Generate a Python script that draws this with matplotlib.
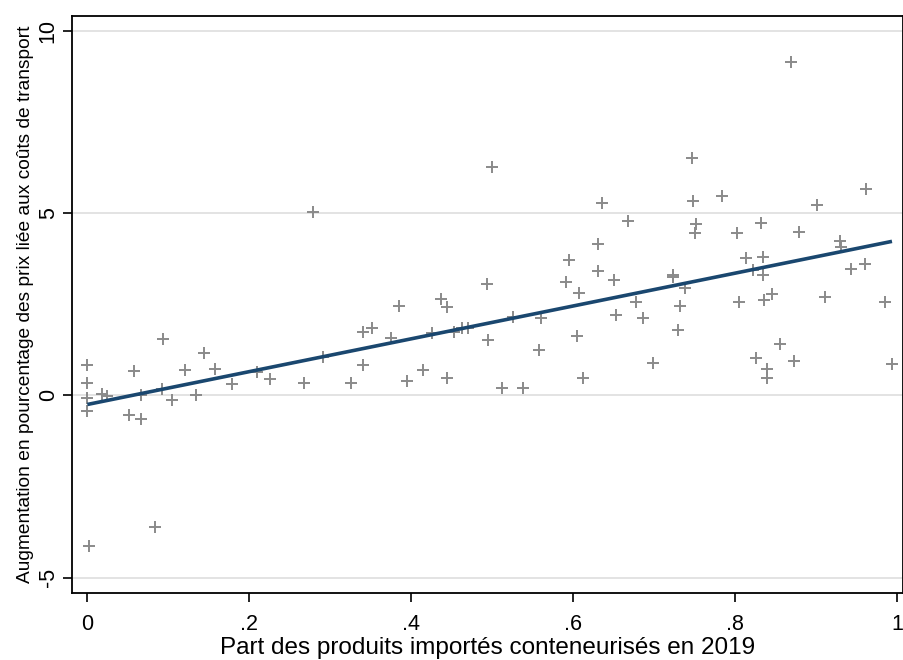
import numpy as np
import matplotlib
matplotlib.use("Agg")
import matplotlib.pyplot as plt

plt.rcParams['font.family'] = ['Liberation Sans', 'DejaVu Sans']

# part conteneurisée des importations (2019) et hausse de prix correspondante
part_conteneur = [
    0.000, 0.000, 0.000, 0.000, 0.0025, 0.0185, 0.0247, 0.052, 0.0667, 0.057,
    0.066, 0.084, 0.094, 0.092, 0.105, 0.120, 0.1346, 0.1444, 0.157, 0.1786,
    0.210, 0.226,
    0.2786, 0.268, 0.2905, 0.326, 0.340, 0.340, 0.351, 0.3745, 0.3848, 0.3947,
    0.4148, 0.426, 0.437, 0.4436, 0.4444, 0.4527, 0.462, 0.4695, 0.4938, 0.4942,
    0.500, 0.5115, 0.538, 0.526, 0.558, 0.560, 0.595, 0.591, 0.607, 0.604,
    0.6115, 0.631, 0.630, 0.636, 0.650, 0.6527, 0.6675, 0.677, 0.6856, 0.6988,
    0.7226, 0.7235, 0.738, 0.7317, 0.729, 0.746, 0.748, 0.7515, 0.750,
    0.784, 0.9004, 0.961, 0.8025, 0.8317, 0.879, 0.8136, 0.8337, 0.822, 0.8346,
    0.9292, 0.930, 0.943, 0.9605, 0.805, 0.835, 0.845, 0.911, 0.985, 0.855,
    0.826, 0.8387, 0.8387, 0.873, 0.9934, 0.869,
]
hausse_prix = [
    0.82, 0.33, -0.08, -0.43, -4.14, 0.04, -0.02, -0.54, -0.65, 0.67,
    0.01, -3.61, 1.55, 0.18, -0.12, 0.70, 0.00, 1.15, 0.72, 0.31,
    0.65, 0.46,
    5.02, 0.35, 1.05, 0.35, 0.82, 1.75, 1.85, 1.57, 2.46, 0.40,
    0.70, 1.71, 2.64, 2.43, 0.48, 1.73, 1.85, 1.84, 3.06, 1.52,
    6.26, 0.20, 0.21, 2.15, 1.25, 2.12, 3.70, 3.10, 2.82, 1.63,
    0.49, 4.16, 3.40, 5.27, 3.15, 2.21, 4.79, 2.55, 2.12, 0.88,
    3.31, 3.25, 2.94, 2.44, 1.80, 6.52, 5.34, 4.71, 4.45,
    5.48, 5.22, 5.65, 4.46, 4.73, 4.47, 3.77, 3.79, 3.45, 3.31,
    4.23, 4.07, 3.47, 3.60, 2.55, 2.62, 2.78, 2.70, 2.57, 1.41,
    1.02, 0.72, 0.49, 0.93, 0.86, 9.13,
]

x_ticks = [0, 0.2, 0.4, 0.6, 0.8, 1]
x_ticklabels = ["0", ".2", ".4", ".6", ".8", "1"]
y_ticks = [-5, 0, 5, 10]

x = np.array(part_conteneur)
y = np.array(hausse_prix)

# droite de régression linéaire (comme lfit)
pente, const = np.polyfit(x, y, 1)
xf = np.array([x.min(), x.max()])

fig = plt.figure(figsize=(9.04, 6.6), dpi=100)
ax = fig.add_axes([71.7 / 904, 67.3 / 660, 831.3 / 904, 577 / 660])

for yt in y_ticks:
    ax.axhline(yt, color="#e3e3e3", lw=1.4, zorder=0)

ax.plot(x, y, linestyle="none", marker="+", markersize=9, markeredgewidth=1.4,
        color="#8a8a8a", zorder=2)
ax.plot(xf, const + pente * xf, color="#1a476f", lw=2.6, zorder=3,
        solid_capstyle="butt")

ax.set_xlim(-0.0193, 1.007)
ax.set_ylim(-5.41, 10.41)
ax.set_xticks(x_ticks)
ax.set_xticklabels(x_ticklabels)
ax.set_yticks(y_ticks)
ax.set_yticklabels([str(v) for v in y_ticks], rotation=90, va="center")

ax.tick_params(axis="both", direction="out", length=6.3, width=1.2,
               labelsize=15.5, color="black")
ax.tick_params(axis="x", pad=9)
ax.tick_params(axis="y", pad=3)
for s in ax.spines.values():
    s.set_linewidth(1.3)
    s.set_color("black")

ax.set_xlabel("Part des produits importés conteneurisés en 2019", fontsize=17.5,
              labelpad=1.5)
ax.set_ylabel("Augmentation en pourcentage des prix liée aux coûts de transport",
              fontsize=13.8, labelpad=2.5)

fig.savefig("out.png", dpi=100, facecolor="white")
